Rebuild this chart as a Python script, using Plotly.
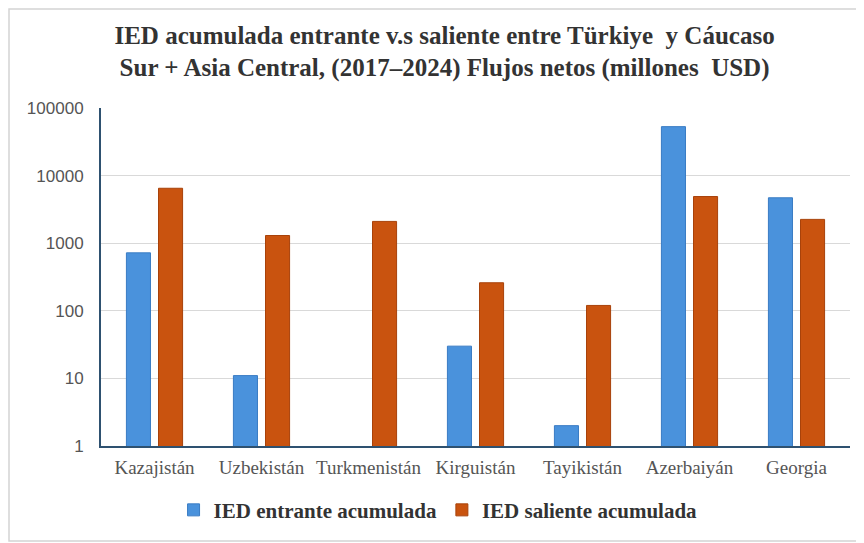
import plotly.graph_objects as go

# Categories and values (millones USD)
paises = ["Kazajistán", "Uzbekistán", "Turkmenistán", "Kirguistán",
          "Tayikistán", "Azerbaiyán", "Georgia"]
ied_entrante = [720, 11, None, 30, 2, 53000, 4700]
ied_saliente = [6500, 1300, 2100, 260, 120, 4900, 2250]

ytick_vals = [1, 10, 100, 1000, 10000, 100000]
ytick_text = ["1", "10", "100", "1000", "10000", "100000"]

SERIF = "'Times New Roman', 'Liberation Serif', serif"

# page body has an 8px margin, so the figure is sized to fit inside it
W, H = 856, 535
L, R, T, B = 93, 14, 100, 97

fig = go.Figure()
fig.add_trace(go.Bar(
    x=paises, y=ied_entrante, name="<b>IED entrante acumulada</b>",
    marker=dict(color="#4a92dc", line=dict(color="#3a7cc4", width=1)),
))
fig.add_trace(go.Bar(
    x=paises, y=ied_saliente, name="<b>IED saliente acumulada</b>",
    marker=dict(color="#c9530f", line=dict(color="#a8420a", width=1)),
))

pw = W - L - R
ph = H - T - B
fig.add_shape(type="rect", xref="paper", yref="paper",
              x0=-(L - 1) / pw, x1=1 + (R - 2) / pw,
              y0=-(B - 2) / ph, y1=1 + (T - 1) / ph,
              line=dict(color="#d4d4d4", width=1.5), layer="below")

fig.update_layout(
    width=W, height=H,
    margin=dict(l=L, r=R, t=T, b=B),
    paper_bgcolor="white", plot_bgcolor="white",
    barmode="group", bargap=0.40, bargroupgap=0.25,
    title=dict(
        text="<b>IED acumulada entrante v.s saliente entre Türkiye  y Cáucaso<br>"
             "Sur + Asia Central, (2017–2024) Flujos netos (millones  USD)</b>",
        x=0.51, xanchor="center", y=0.933, yanchor="middle",
        font=dict(family=SERIF, size=25, color="#333333"),
    ),
    xaxis=dict(
        showline=True, linecolor="#2e5170", linewidth=2,
        showgrid=False, ticks="", ticklabelstandoff=3,
        tickfont=dict(family=SERIF, size=19, color="#555555"),
    ),
    yaxis=dict(
        type="log", range=[0, 5],
        tickvals=ytick_vals, ticktext=ytick_text,
        showline=True, linecolor="#2e5170", linewidth=2,
        showgrid=True, gridcolor="#d9d9d9", gridwidth=1,
        ticks="", ticklabelstandoff=12,
        tickfont=dict(family="Liberation Sans", size=17, color="#555555"),
    ),
    legend=dict(
        orientation="h", x=0.45, xanchor="center", y=-0.19, yanchor="middle",
        font=dict(family=SERIF, size=21, color="#333333"),
        itemwidth=30, traceorder="normal",
    ),
    font=dict(family=SERIF),
)

fig.write_html("out.html")
